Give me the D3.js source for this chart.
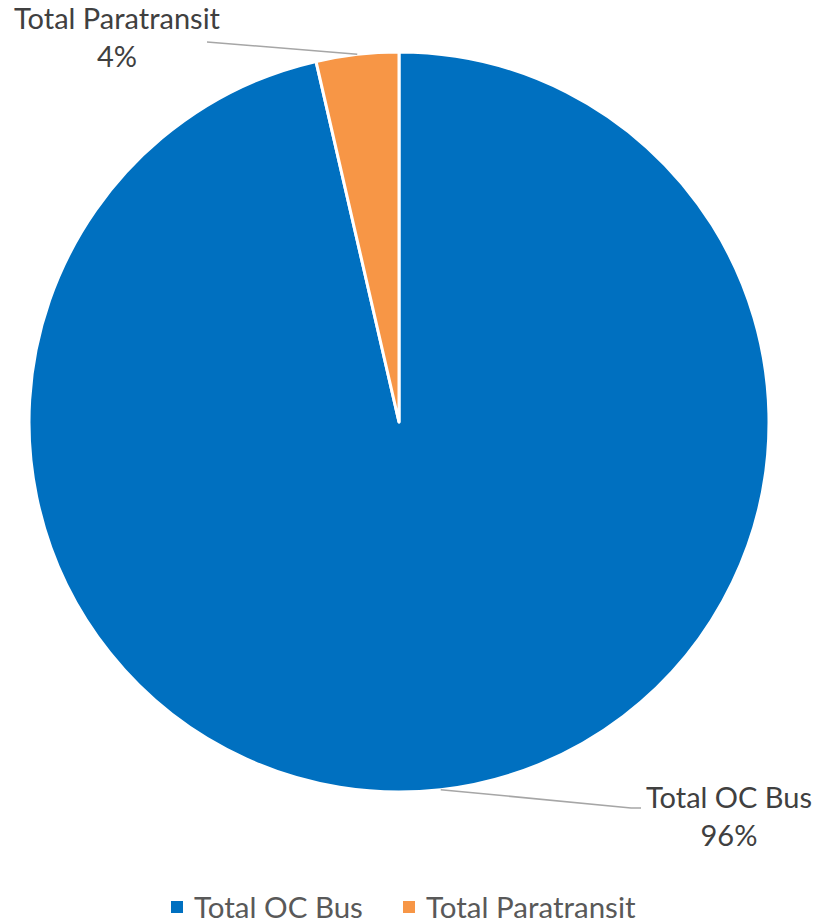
<!DOCTYPE html>
<html lang="en">
<head>
    <meta charset="UTF-8" />
    <title>Ridership share</title>
    <script src="https://cdnjs.cloudflare.com/ajax/libs/d3/7.6.1/d3.js"></script>
    <style>
        body { margin: 0; background: #fff; }
        text { font-family: Lato, "Open Sans", sans-serif; }
    </style>
</head>
<body>
    <div id="chart"></div>
    <script>
        // data
        const categories = ["Total OC Bus", "Total Paratransit"];
        const shares = [96.4, 3.6];
        const colors = ["#0070C0", "#F79646"];

        const width = 819, height = 923;
        const cx = 399, cy = 422, radius = 370;

        const svg = d3.select("#chart").append("svg")
            .attr("width", width)
            .attr("height", height);

        const data = categories.map((c, i) => ({ name: c, value: shares[i], color: colors[i] }));
        const total = d3.sum(shares);

        const pie = d3.pie().sort(null).value(d => d.value);
        const arc = d3.arc().innerRadius(0).outerRadius(radius);
        const arcs = pie(data);

        const g = svg.append("g").attr("transform", `translate(${cx},${cy})`);

        g.selectAll("path.slice")
            .data(arcs)
            .join("path")
            .attr("class", "slice")
            .attr("d", arc)
            .attr("fill", d => d.data.color)
            .attr("stroke", "#fff")
            .attr("stroke-width", 3)
            .attr("stroke-linejoin", "round");

        // labels: where the leader line ends, relative to the pie centre
        const labelEnds = {
            "Total OC Bus": { end: [232, 386], anchor: "start" },
            "Total Paratransit": { end: [-192, -380], anchor: "end" }
        };

        arcs.forEach(a => {
            const mid = (a.startAngle + a.endAngle) / 2;
            const p0 = [Math.sin(mid) * radius, -Math.cos(mid) * radius];
            const lab = labelEnds[a.data.name];
            const pts = [p0, lab.end];
            if (lab.anchor === "start") pts.push([lab.end[0] + 10, lab.end[1]]);
            g.append("path")
                .attr("d", d3.line()(pts))
                .attr("fill", "none")
                .attr("stroke", "#a6a6a6")
                .attr("stroke-width", 1.5);

            const pct = d3.format(".0%")(a.data.value / total);
            let tx, ty;
            if (lab.anchor === "start") {
                tx = lab.end[0] + 98;
                ty = lab.end[1];
            } else {
                tx = lab.end[0] - 90;
                ty = lab.end[1] - 13;
            }
            const t = g.append("text")
                .attr("text-anchor", "middle")
                .attr("fill", "#404040")
                .style("font-size", "29px");
            t.append("tspan").attr("x", tx).attr("y", ty).text(a.data.name);
            t.append("tspan").attr("x", tx).attr("y", ty + 38).text(pct);
        });

        // legend
        const legend = svg.append("g").attr("transform", "translate(171,918)");
        const legendX = d3.scaleOrdinal().domain(categories).range([0, 232]);
        const item = legend.selectAll("g")
            .data(data)
            .join("g")
            .attr("transform", d => `translate(${legendX(d.name)},0)`);
        item.append("rect")
            .attr("y", -17)
            .attr("width", 12)
            .attr("height", 12)
            .attr("fill", d => d.color);
        item.append("text")
            .attr("x", 23)
            .attr("fill", "#595959")
            .style("font-size", "29.5px")
            .text(d => d.name);
    </script>
</body>
</html>
